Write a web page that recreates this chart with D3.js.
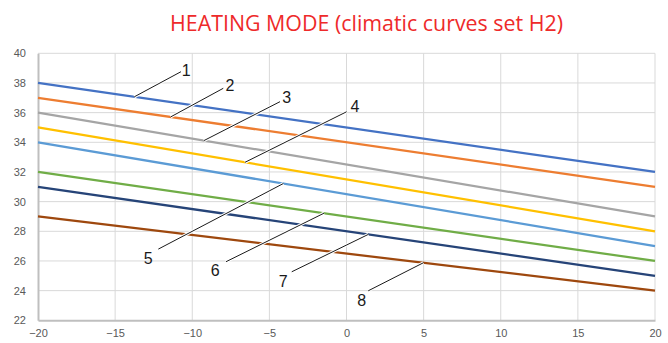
<!DOCTYPE html>
<html><head><meta charset="utf-8">
<script src="https://cdn.jsdelivr.net/npm/d3@7"></script>
<style>body{margin:0;background:#fff}svg{display:block}</style>
</head><body>
<svg id="c" width="668" height="343"></svg>
<script>
const xValues = [-20, 20];
const seriesNames = ["1","2","3","4","5","6","7","8"];
const seriesStart = [38, 37, 36, 35, 34, 32, 31, 29];
const seriesEnd = [32, 31, 29, 28, 27, 26, 25, 24];
const seriesColors = ["#4472C4","#ED7D31","#A5A5A5","#FFC000","#5B9BD5","#70AD47","#264478","#9E480E"];
const xTicks = [-20, -15, -10, -5, 0, 5, 10, 15, 20];
const yTicks = [22, 24, 26, 28, 30, 32, 34, 36, 38, 40];
// annotation leaders: anchor x on the curve, leader end (x,y), label (x,y) in data units
const annAnchorX = [-13.76, -11.40, -9.24, -6.58, -4.10, -1.46, 1.41, 4.98];
const annEnd = [[-10.73,38.76],[-7.99,37.64],[-4.31,36.74],[0.01,36.06],[-12.2,26.80],[-7.81,25.95],[-3.55,25.27],[1.41,23.99]];
const annLabel = [[-10.40,38.87],[-7.55,37.86],[-3.88,37.0],[0.55,36.4],[-12.85,26.18],[-8.52,25.39],[-4.10,24.6],[0.99,23.36]];
const title = "HEATING MODE (climatic curves set H2)";

const svg = d3.select("#c");
const x = d3.scaleLinear().domain([-20, 20]).range([38, 655]);
const y = d3.scaleLinear().domain([22, 40]).range([320.3, 53.3]);

// gridlines
svg.append("g").selectAll("line.h").data(yTicks.slice(1)).join("line")
  .attr("x1", x(-20)).attr("x2", x(20)).attr("y1", d => y(d)).attr("y2", d => y(d))
  .attr("stroke", "#d9d9d9").attr("stroke-width", 1);
svg.append("g").selectAll("line.v").data(xTicks.slice(1)).join("line")
  .attr("x1", d => x(d)).attr("x2", d => x(d)).attr("y1", y(22)).attr("y2", y(40))
  .attr("stroke", "#d9d9d9").attr("stroke-width", 1);

// axes
const yAxis = svg.append("g").attr("transform", `translate(${x(-20)},0)`)
  .call(d3.axisLeft(y).tickValues(yTicks).tickSize(0).tickPadding(12));
const xAxis = svg.append("g").attr("transform", `translate(0,${y(22)})`)
  .call(d3.axisBottom(x).tickValues(xTicks).tickSize(0).tickPadding(9));
[yAxis, xAxis].forEach(g => {
  g.select(".domain").attr("stroke", "#bfbfbf").attr("stroke-width", 2);
  g.selectAll("text").attr("fill", "#595959").attr("font-family", "Liberation Sans, Arial, sans-serif").attr("font-size", 11);
});

// series
const data = seriesNames.map((n, i) => ({name: n, pts: [[xValues[0], seriesStart[i]], [xValues[1], seriesEnd[i]]], color: seriesColors[i]}));
const line = d3.line().x(d => x(d[0])).y(d => y(d[1]));
svg.append("g").selectAll("path").data(data).join("path")
  .attr("d", d => line(d.pts)).attr("fill", "none")
  .attr("stroke", d => d.color).attr("stroke-width", 2.25);

// annotations
const valAt = (i, xv) => seriesStart[i] + (seriesEnd[i] - seriesStart[i]) * (xv - xValues[0]) / (xValues[1] - xValues[0]);
const ann = svg.append("g");
seriesNames.forEach((n, i) => {
  const ax = x(annAnchorX[i]), ay = y(valAt(i, annAnchorX[i]));
  const ex = x(annEnd[i][0]), ey = y(annEnd[i][1]);
  ann.append("line").attr("x1", ax).attr("y1", ay).attr("x2", ex).attr("y2", ey)
    .attr("stroke", "#fff").attr("stroke-width", 3);
  ann.append("line").attr("x1", ax).attr("y1", ay).attr("x2", ex).attr("y2", ey)
    .attr("stroke", "#000").attr("stroke-width", 0.9);
  ann.append("text").attr("x", x(annLabel[i][0])).attr("y", y(annLabel[i][1]))
    .attr("text-anchor", "middle").attr("dominant-baseline", "central")
    .attr("font-family", "Liberation Sans, Arial, sans-serif").attr("font-size", 16).attr("fill", "#1a1a1a")
    .text(n);
});

// title
svg.append("text").attr("x", 366.5).attr("y", 31).attr("text-anchor", "middle")
  .attr("font-family", "Open Sans, sans-serif").attr("font-size", 21).attr("fill", "#ee2a2a")
  .attr("textLength", 393).attr("lengthAdjust", "spacingAndGlyphs")
  .text(title);
</script>
</body></html>
